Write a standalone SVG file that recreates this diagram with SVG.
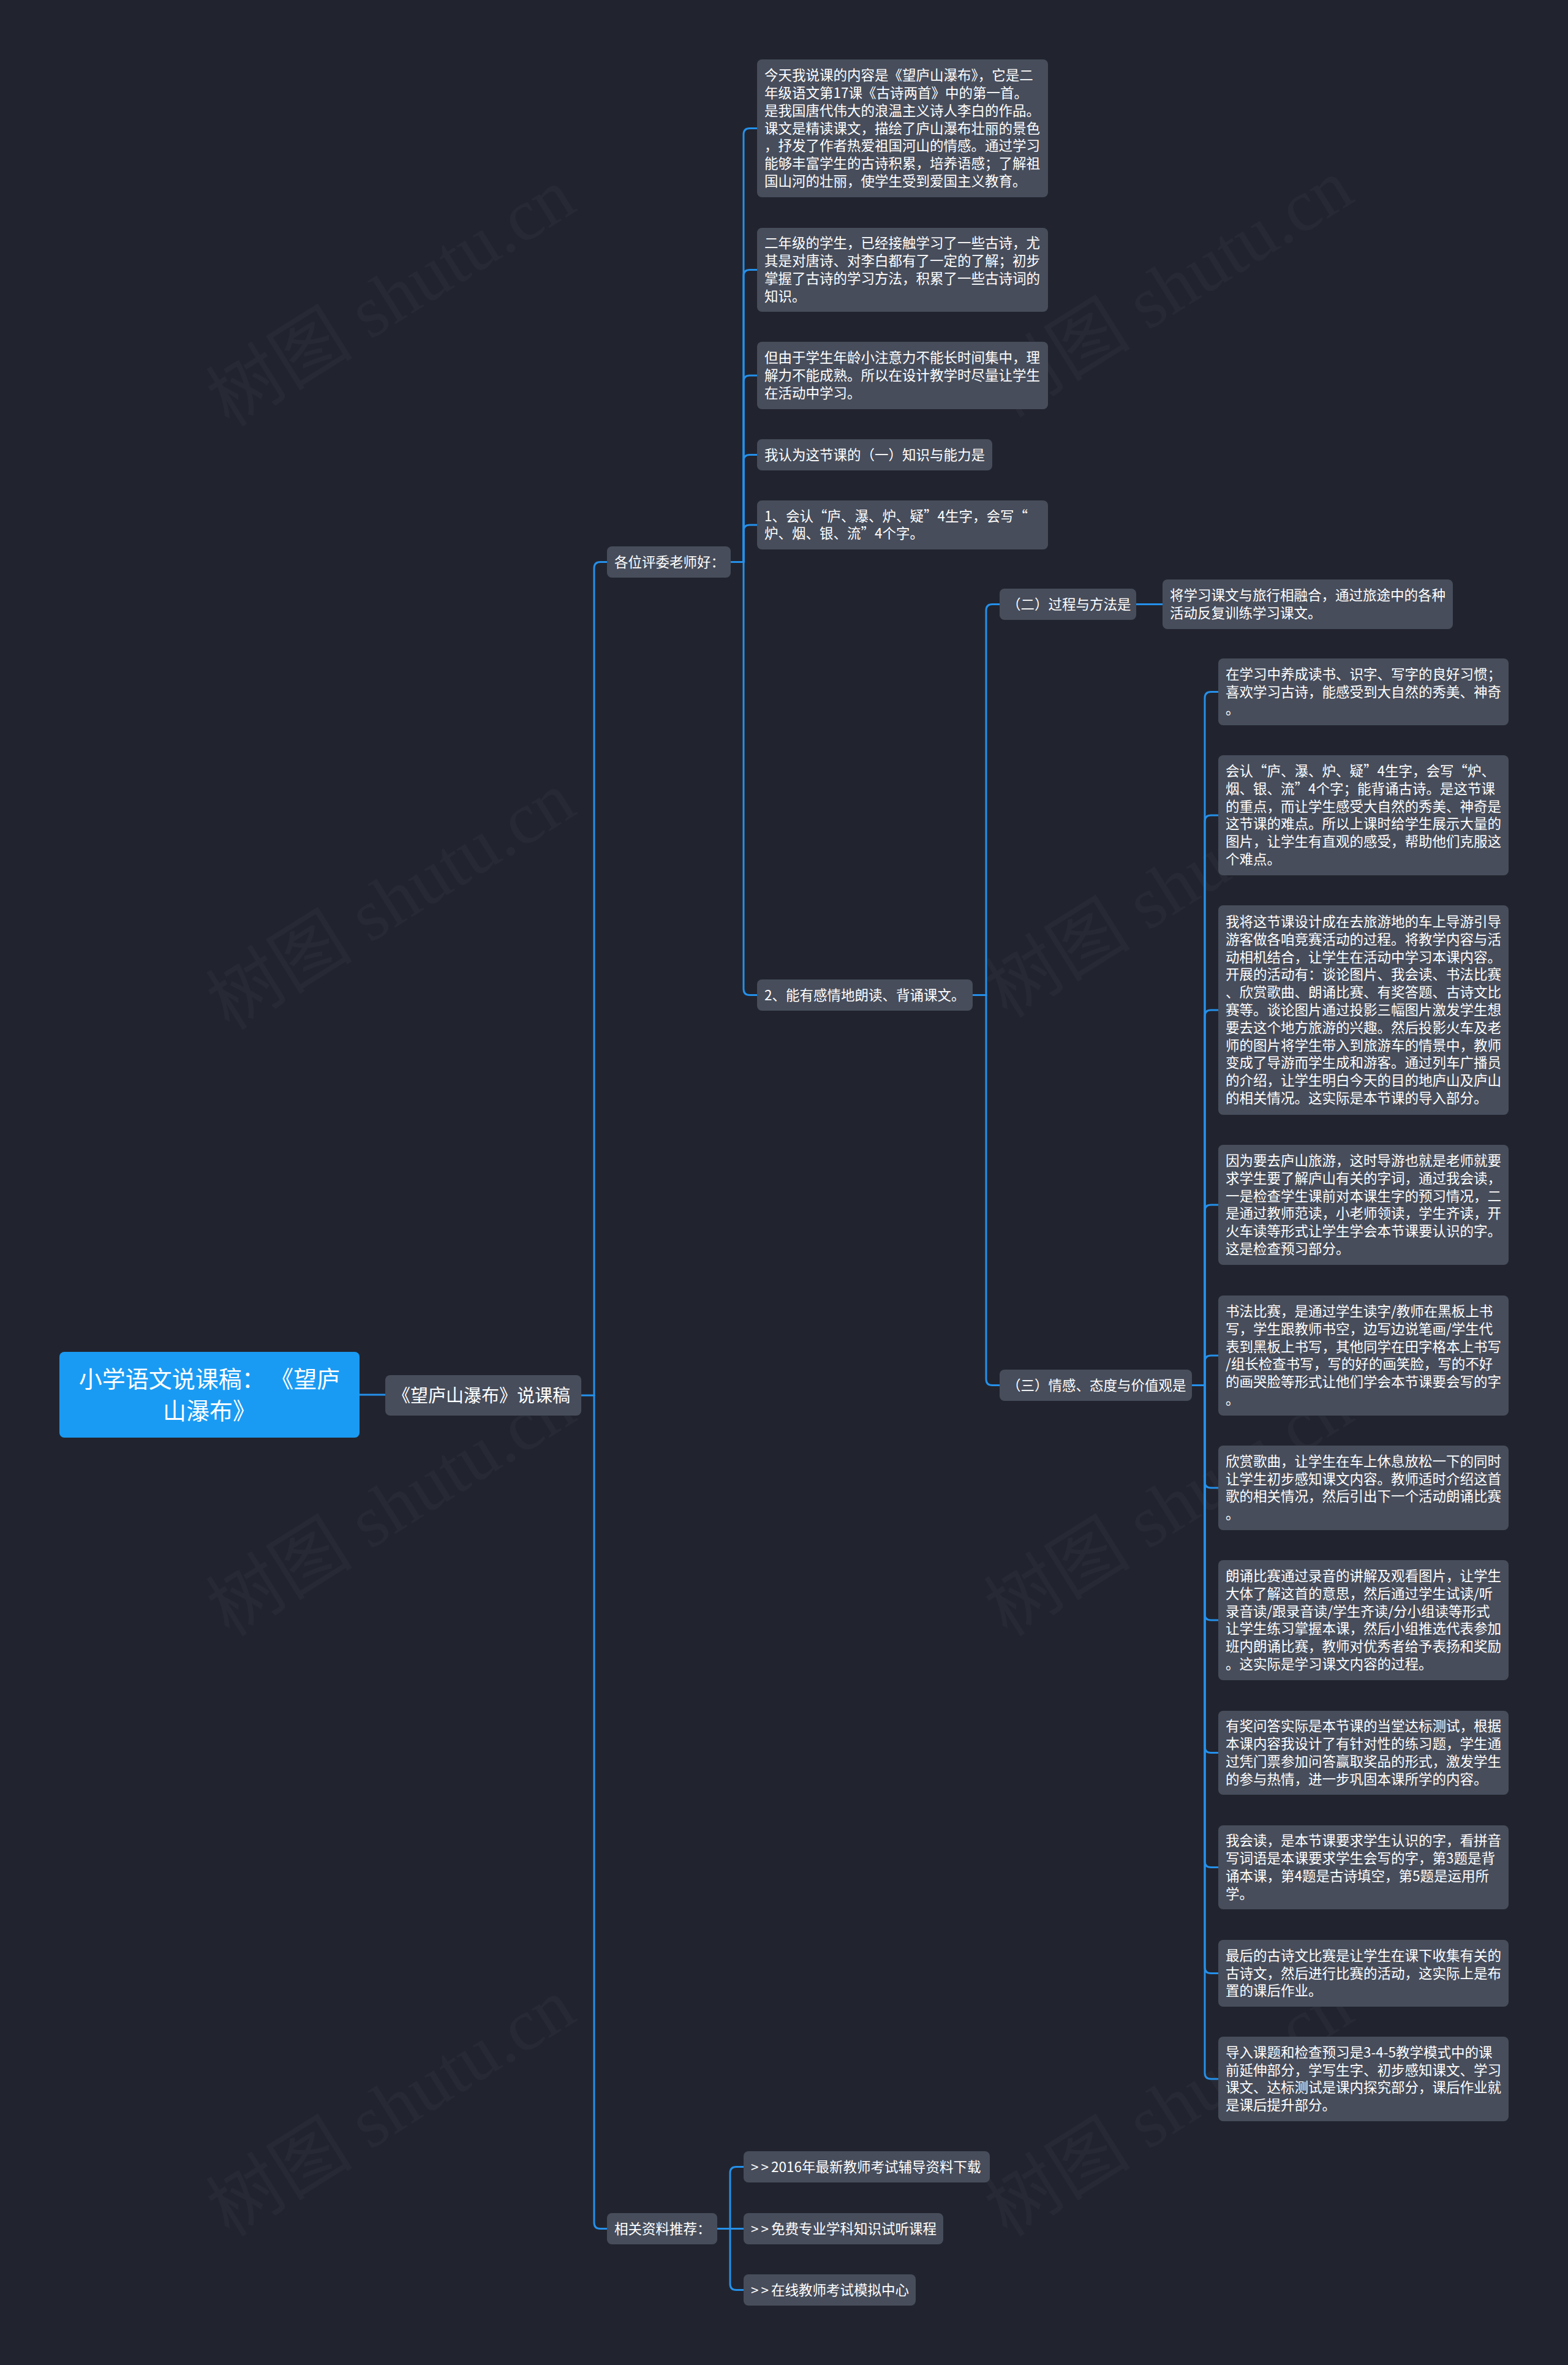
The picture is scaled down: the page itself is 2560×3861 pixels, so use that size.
<svg xmlns="http://www.w3.org/2000/svg" width="2560" height="3861" viewBox="0 0 2560 3861">
<style>
.bg{fill:#21242f}
.wm{font-family:"Liberation Serif","Noto Sans CJK SC",serif;font-size:120px;fill:#ffffff;fill-opacity:0.03}
.box{fill:#474d5b}
.root{fill:#1a9bf3}
.t{font-family:"Noto Sans CJK SC","Noto Sans",sans-serif;font-size:22.5px;fill:#ffffff}
.tr{font-family:"Noto Sans CJK SC","Noto Sans",sans-serif;font-size:38px;fill:#ffffff;text-anchor:middle}
.tp{font-family:"Noto Sans CJK SC","Noto Sans",sans-serif;font-size:29px;fill:#ffffff}
.c{fill:none;stroke:#2590ea;stroke-width:3;stroke-linecap:round}
</style>
<rect class="bg" x="0" y="0" width="2560" height="3861"/>
<g id="watermarks">
<text class="wm" text-anchor="middle" transform="translate(660,520) rotate(-32)">树图 shutu.cn</text>
<text class="wm" text-anchor="middle" transform="translate(1930,505) rotate(-32)">树图 shutu.cn</text>
<text class="wm" text-anchor="middle" transform="translate(660,1505) rotate(-32)">树图 shutu.cn</text>
<text class="wm" text-anchor="middle" transform="translate(1930,1485) rotate(-32)">树图 shutu.cn</text>
<text class="wm" text-anchor="middle" transform="translate(660,2495) rotate(-32)">树图 shutu.cn</text>
<text class="wm" text-anchor="middle" transform="translate(1930,2495) rotate(-32)">树图 shutu.cn</text>
<text class="wm" text-anchor="middle" transform="translate(660,3475) rotate(-32)">树图 shutu.cn</text>
<text class="wm" text-anchor="middle" transform="translate(1930,3475) rotate(-32)">树图 shutu.cn</text>
</g>
<g id="connectors">
<path class="c" d="M587,2277 H629"/>
<path class="c" d="M949,2278 H970"/>
<path class="c" d="M970,2278 V927.5 Q970,917.5 980,917.5 H991"/>
<path class="c" d="M970,2278 V3628.5 Q970,3638.5 980,3638.5 H991"/>
<path class="c" d="M1193,917.5 H1214"/>
<path class="c" d="M1214,917.5 V219.5 Q1214,209.5 1224,209.5 H1236"/>
<path class="c" d="M1214,917.5 V450.5 Q1214,440.5 1224,440.5 H1236"/>
<path class="c" d="M1214,917.5 V623 Q1214,613 1224,613 H1236"/>
<path class="c" d="M1214,917.5 V752.5 Q1214,742.5 1224,742.5 H1236"/>
<path class="c" d="M1214,917.5 V867 Q1214,857 1224,857 H1236"/>
<path class="c" d="M1214,917.5 V1614.5 Q1214,1624.5 1224,1624.5 H1236"/>
<path class="c" d="M1588,1624.5 H1610"/>
<path class="c" d="M1610,1624.5 V996.5 Q1610,986.5 1620,986.5 H1632"/>
<path class="c" d="M1610,1624.5 V2251.5 Q1610,2261.5 1620,2261.5 H1632"/>
<path class="c" d="M1855,986.5 H1898"/>
<path class="c" d="M1946,2261.5 H1967"/>
<path class="c" d="M1967,2261.5 V1139.5 Q1967,1129.5 1977,1129.5 H1989"/>
<path class="c" d="M1967,2261.5 V1341 Q1967,1331 1977,1331 H1989"/>
<path class="c" d="M1967,2261.5 V1659 Q1967,1649 1977,1649 H1989"/>
<path class="c" d="M1967,2261.5 V1977 Q1967,1967 1977,1967 H1989"/>
<path class="c" d="M1967,2261.5 V2223 Q1967,2213 1977,2213 H1989"/>
<path class="c" d="M1967,2261.5 V2419 Q1967,2429 1977,2429 H1989"/>
<path class="c" d="M1967,2261.5 V2635 Q1967,2645 1977,2645 H1989"/>
<path class="c" d="M1967,2261.5 V2851.5 Q1967,2861.5 1977,2861.5 H1989"/>
<path class="c" d="M1967,2261.5 V3038.5 Q1967,3048.5 1977,3048.5 H1989"/>
<path class="c" d="M1967,2261.5 V3211.5 Q1967,3221.5 1977,3221.5 H1989"/>
<path class="c" d="M1967,2261.5 V3384 Q1967,3394 1977,3394 H1989"/>
<path class="c" d="M1171,3638.5 H1192"/>
<path class="c" d="M1192,3638.5 V3547.5 Q1192,3537.5 1202,3537.5 H1214"/>
<path class="c" d="M1192,3638.5 H1214"/>
<path class="c" d="M1192,3638.5 V3728.5 Q1192,3738.5 1202,3738.5 H1214"/>
</g>
<g id="root">
<rect class="root" x="97" y="2207" width="490" height="140" rx="8"/>
<text class="tr" x="342" y="2265">小学语文说课稿： 《望庐</text>
<text class="tr" x="342" y="2317">山瀑布》</text>
</g>
<g id="n-main">
<rect class="box" x="629" y="2245" width="320" height="66" rx="8"/>
<text class="tp" x="641" y="2288.5">《望庐山瀑布》说课稿</text>
</g>
<g id="n-greet">
<rect class="box" x="991" y="892" width="202" height="51" rx="8"/>
<text class="t" x="1003" y="925.5">各位评委老师好：</text>
</g>
<g id="n-b1">
<rect class="box" x="1236" y="97" width="475" height="225" rx="8"/>
<text class="t" y="131.1"><tspan x="1248">今天我说课的内容是《望庐山瀑布》，它是二</tspan><tspan x="1248" dy="28.8">年级语文第17课《古诗两首》中的第一首。</tspan><tspan x="1248" dy="28.8">是我国唐代伟大的浪温主义诗人李白的作品。</tspan><tspan x="1248" dy="28.8">课文是精读课文，描绘了庐山瀑布壮丽的景色</tspan><tspan x="1248" dy="28.8">，抒发了作者热爱祖国河山的情感。通过学习</tspan><tspan x="1248" dy="28.8">能够丰富学生的古诗积累，培养语感；了解祖</tspan><tspan x="1248" dy="28.8">国山河的壮丽，使学生受到爱国主义教育。</tspan></text>
</g>
<g id="n-b2">
<rect class="box" x="1236" y="372" width="475" height="137" rx="8"/>
<text class="t" y="405.3"><tspan x="1248">二年级的学生，已经接触学习了一些古诗，尤</tspan><tspan x="1248" dy="28.8">其是对唐诗、对李白都有了一定的了解；初步</tspan><tspan x="1248" dy="28.8">掌握了古诗的学习方法，积累了一些古诗词的</tspan><tspan x="1248" dy="28.8">知识。</tspan></text>
</g>
<g id="n-b3">
<rect class="box" x="1236" y="558" width="475" height="110" rx="8"/>
<text class="t" y="592.2"><tspan x="1248">但由于学生年龄小注意力不能长时间集中，理</tspan><tspan x="1248" dy="28.8">解力不能成熟。所以在设计教学时尽量让学生</tspan><tspan x="1248" dy="28.8">在活动中学习。</tspan></text>
</g>
<g id="n-b4">
<rect class="box" x="1236" y="717" width="384" height="51" rx="8"/>
<text class="t" x="1248" y="750.5">我认为这节课的（一）知识与能力是</text>
</g>
<g id="n-b5">
<rect class="box" x="1236" y="817" width="475" height="80" rx="8"/>
<text class="t" y="850.6"><tspan x="1248">1、会认“庐、瀑、炉、疑”4生字，会写“</tspan><tspan x="1248" dy="28.8">炉、烟、银、流”4个字。</tspan></text>
</g>
<g id="n-b6">
<rect class="box" x="1236" y="1599" width="352" height="51" rx="8"/>
<text class="t" x="1248" y="1632.5">2、能有感情地朗读、背诵课文。</text>
</g>
<g id="n-c1">
<rect class="box" x="1632" y="961" width="223" height="51" rx="8"/>
<text class="t" x="1644" y="994.5">（二）过程与方法是</text>
</g>
<g id="n-d1">
<rect class="box" x="1898" y="946" width="474" height="81" rx="8"/>
<text class="t" y="980.1"><tspan x="1910">将学习课文与旅行相融合，通过旅途中的各种</tspan><tspan x="1910" dy="28.8">活动反复训练学习课文。</tspan></text>
</g>
<g id="n-c2">
<rect class="box" x="1632" y="2236" width="314" height="51" rx="8"/>
<text class="t" x="1644" y="2269.5">（三）情感、态度与价值观是</text>
</g>
<g id="n-a1">
<rect class="box" x="1989" y="1075" width="474" height="109" rx="8"/>
<text class="t" y="1108.7"><tspan x="2001">在学习中养成读书、识字、写字的良好习惯；</tspan><tspan x="2001" dy="28.8">喜欢学习古诗，能感受到大自然的秀美、神奇</tspan><tspan x="2001" dy="28.8">。</tspan></text>
</g>
<g id="n-a2">
<rect class="box" x="1989" y="1233" width="474" height="196" rx="8"/>
<text class="t" y="1267"><tspan x="2001">会认“庐、瀑、炉、疑”4生字，会写“炉、</tspan><tspan x="2001" dy="28.8">烟、银、流”4个字；能背诵古诗。是这节课</tspan><tspan x="2001" dy="28.8">的重点，而让学生感受大自然的秀美、神奇是</tspan><tspan x="2001" dy="28.8">这节课的难点。所以上课时给学生展示大量的</tspan><tspan x="2001" dy="28.8">图片，让学生有直观的感受，帮助他们克服这</tspan><tspan x="2001" dy="28.8">个难点。</tspan></text>
</g>
<g id="n-a3">
<rect class="box" x="1989" y="1478" width="474" height="342" rx="8"/>
<text class="t" y="1513"><tspan x="2001">我将这节课设计成在去旅游地的车上导游引导</tspan><tspan x="2001" dy="28.8">游客做各咱竞赛活动的过程。将教学内容与活</tspan><tspan x="2001" dy="28.8">动相机结合，让学生在活动中学习本课内容。</tspan><tspan x="2001" dy="28.8">开展的活动有：谈论图片、我会读、书法比赛</tspan><tspan x="2001" dy="28.8">、欣赏歌曲、朗诵比赛、有奖答题、古诗文比</tspan><tspan x="2001" dy="28.8">赛等。谈论图片通过投影三幅图片激发学生想</tspan><tspan x="2001" dy="28.8">要去这个地方旅游的兴趣。然后投影火车及老</tspan><tspan x="2001" dy="28.8">师的图片将学生带入到旅游车的情景中，教师</tspan><tspan x="2001" dy="28.8">变成了导游而学生成和游客。通过列车广播员</tspan><tspan x="2001" dy="28.8">的介绍，让学生明白今天的目的地庐山及庐山</tspan><tspan x="2001" dy="28.8">的相关情况。这实际是本节课的导入部分。</tspan></text>
</g>
<g id="n-a4">
<rect class="box" x="1989" y="1869" width="474" height="196" rx="8"/>
<text class="t" y="1903"><tspan x="2001">因为要去庐山旅游，这时导游也就是老师就要</tspan><tspan x="2001" dy="28.8">求学生要了解庐山有关的字词，通过我会读，</tspan><tspan x="2001" dy="28.8">一是检查学生课前对本课生字的预习情况，二</tspan><tspan x="2001" dy="28.8">是通过教师范读，小老师领读，学生齐读，开</tspan><tspan x="2001" dy="28.8">火车读等形式让学生学会本节课要认识的字。</tspan><tspan x="2001" dy="28.8">这是检查预习部分。</tspan></text>
</g>
<g id="n-a5">
<rect class="box" x="1989" y="2115" width="474" height="196" rx="8"/>
<text class="t" y="2149"><tspan x="2001">书法比赛，是通过学生读字/教师在黑板上书</tspan><tspan x="2001" dy="28.8">写，学生跟教师书空，边写边说笔画/学生代</tspan><tspan x="2001" dy="28.8">表到黑板上书写，其他同学在田字格本上书写</tspan><tspan x="2001" dy="28.8">/组长检查书写，写的好的画笑脸，写的不好</tspan><tspan x="2001" dy="28.8">的画哭脸等形式让他们学会本节课要会写的字</tspan><tspan x="2001" dy="28.8">。</tspan></text>
</g>
<g id="n-a6">
<rect class="box" x="1989" y="2360" width="474" height="138" rx="8"/>
<text class="t" y="2393.8"><tspan x="2001">欣赏歌曲，让学生在车上休息放松一下的同时</tspan><tspan x="2001" dy="28.8">让学生初步感知课文内容。教师适时介绍这首</tspan><tspan x="2001" dy="28.8">歌的相关情况，然后引出下一个活动朗诵比赛</tspan><tspan x="2001" dy="28.8">。</tspan></text>
</g>
<g id="n-a7">
<rect class="box" x="1989" y="2547" width="474" height="196" rx="8"/>
<text class="t" y="2581"><tspan x="2001">朗诵比赛通过录音的讲解及观看图片，让学生</tspan><tspan x="2001" dy="28.8">大体了解这首的意思，然后通过学生试读/听</tspan><tspan x="2001" dy="28.8">录音读/跟录音读/学生齐读/分小组读等形式</tspan><tspan x="2001" dy="28.8">让学生练习掌握本课，然后小组推选代表参加</tspan><tspan x="2001" dy="28.8">班内朗诵比赛，教师对优秀者给予表扬和奖励</tspan><tspan x="2001" dy="28.8">。这实际是学习课文内容的过程。</tspan></text>
</g>
<g id="n-a8">
<rect class="box" x="1989" y="2793" width="474" height="137" rx="8"/>
<text class="t" y="2826.3"><tspan x="2001">有奖问答实际是本节课的当堂达标测试，根据</tspan><tspan x="2001" dy="28.8">本课内容我设计了有针对性的练习题，学生通</tspan><tspan x="2001" dy="28.8">过凭门票参加问答赢取奖品的形式，激发学生</tspan><tspan x="2001" dy="28.8">的参与热情，进一步巩固本课所学的内容。</tspan></text>
</g>
<g id="n-a9">
<rect class="box" x="1989" y="2980" width="474" height="137" rx="8"/>
<text class="t" y="3013.3"><tspan x="2001">我会读，是本节课要求学生认识的字，看拼音</tspan><tspan x="2001" dy="28.8">写词语是本课要求学生会写的字，第3题是背</tspan><tspan x="2001" dy="28.8">诵本课，第4题是古诗填空，第5题是运用所</tspan><tspan x="2001" dy="28.8">学。</tspan></text>
</g>
<g id="n-a10">
<rect class="box" x="1989" y="3167" width="474" height="109" rx="8"/>
<text class="t" y="3200.7"><tspan x="2001">最后的古诗文比赛是让学生在课下收集有关的</tspan><tspan x="2001" dy="28.8">古诗文，然后进行比赛的活动，这实际上是布</tspan><tspan x="2001" dy="28.8">置的课后作业。</tspan></text>
</g>
<g id="n-a11">
<rect class="box" x="1989" y="3325" width="474" height="138" rx="8"/>
<text class="t" y="3358.8"><tspan x="2001">导入课题和检查预习是3-4-5教学模式中的课</tspan><tspan x="2001" dy="28.8">前延伸部分，学写生字、初步感知课文、学习</tspan><tspan x="2001" dy="28.8">课文、达标测试是课内探究部分，课后作业就</tspan><tspan x="2001" dy="28.8">是课后提升部分。</tspan></text>
</g>
<g id="n-res">
<rect class="box" x="991" y="3613" width="180" height="51" rx="8"/>
<text class="t" x="1003" y="3646.5">相关资料推荐：</text>
</g>
<g id="n-l1">
<rect class="box" x="1214" y="3512" width="402" height="51" rx="8"/>
<text class="t" x="1226" y="3545.5"><tspan letter-spacing="4">&gt;&gt;</tspan>2016年最新教师考试辅导资料下载</text>
</g>
<g id="n-l2">
<rect class="box" x="1214" y="3613" width="326" height="51" rx="8"/>
<text class="t" x="1226" y="3646.5"><tspan letter-spacing="4">&gt;&gt;</tspan>免费专业学科知识试听课程</text>
</g>
<g id="n-l3">
<rect class="box" x="1214" y="3713" width="281" height="51" rx="8"/>
<text class="t" x="1226" y="3746.5"><tspan letter-spacing="4">&gt;&gt;</tspan>在线教师考试模拟中心</text>
</g>
</svg>
